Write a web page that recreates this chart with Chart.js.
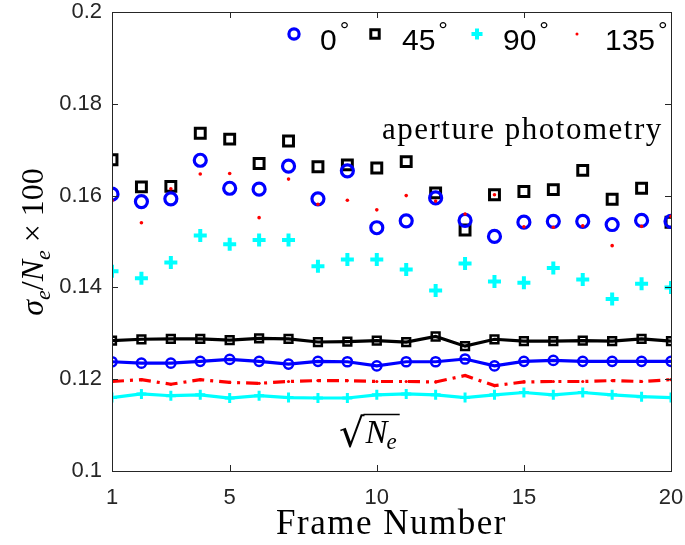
<!DOCTYPE html>
<html lang="en">
<head>
<meta charset="UTF-8">
<title>Frame noise</title>
<script src="https://cdn.jsdelivr.net/npm/chart.js"></script>
<style>
    body { margin: 0; background: #fff; }
    canvas { display: block; }
</style>
</head>
<body>
<canvas id="chart" width="685" height="545"></canvas>
<script>
// frame index
const frames = [1, 2, 3, 4, 5, 6, 7, 8, 9, 10, 11, 12, 13, 14, 15, 16, 17, 18, 19, 20];

// aperture photometry, one list per polarizer angle
const aper0 = [0.1603, 0.1587, 0.1593, 0.1677, 0.1616, 0.1614, 0.1664, 0.1593, 0.1654, 0.1530,
               0.1545, 0.1595, 0.1546, 0.1511, 0.1542, 0.1544, 0.1544, 0.1537, 0.1546, 0.1544];
const aper45 = [0.1678, 0.1619, 0.1620, 0.1736, 0.1723, 0.1670, 0.1719, 0.1663, 0.1667, 0.1660,
                0.1674, 0.1606, 0.1525, 0.1602, 0.1609, 0.1613, 0.1655, 0.1592, 0.1616, 0.1542];
const aper90 = [0.1435, 0.1420, 0.1454, 0.1513, 0.1494, 0.1503, 0.1503, 0.1446, 0.1461, 0.1461,
                0.1439, 0.1393, 0.1452, 0.1413, 0.1410, 0.1442, 0.1417, 0.1375, 0.1408, 0.1400];
const aper135 = [0.1589, 0.1541, 0.1615, 0.1647, 0.1648, 0.1552, 0.1636, 0.1581, 0.1590, 0.1569,
                 0.1600, 0.1588, 0.1560, 0.1602, 0.1532, 0.1531, 0.1534, 0.1491, 0.1533, 0.1555];

// sqrt(Ne) expectation
const sqrt0 = [0.1238, 0.1235, 0.1235, 0.1239, 0.1243, 0.1239, 0.1233, 0.1239, 0.1238, 0.1229,
               0.1238, 0.1238, 0.1244, 0.1229, 0.1239, 0.1241, 0.1239, 0.1239, 0.1239, 0.1239];
const sqrt45 = [0.1284, 0.1287, 0.1288, 0.1288, 0.1285, 0.1289, 0.1288, 0.1281, 0.1282, 0.1284,
                0.1281, 0.1293, 0.1272, 0.1287, 0.1283, 0.1283, 0.1284, 0.1283, 0.1288, 0.1283];
const sqrt90 = [0.1160, 0.1168, 0.1164, 0.1166, 0.1159, 0.1164, 0.1160, 0.1159, 0.1159, 0.1166,
                0.1168, 0.1166, 0.1160, 0.1166, 0.1171, 0.1166, 0.1171, 0.1166, 0.1162, 0.1160];
const sqrt135 = [0.1195, 0.1199, 0.1189, 0.1199, 0.1193, 0.1191, 0.1195, 0.1197, 0.1197, 0.1195,
                 0.1195, 0.1194, 0.1208, 0.1186, 0.1194, 0.1195, 0.1195, 0.1197, 0.1195, 0.1199];

const xTicks = [1, 5, 10, 15, 20];
const yTicks = [0.1, 0.12, 0.14, 0.16, 0.18, 0.2];
const legendLabels = ['0', '45', '90', '135'];

const AXIS = '#262626';
const NONE = 'rgba(0,0,0,0)';
const pts = arr => arr.map((v, i) => ({ x: frames[i], y: v }));

// marker styles shared by plot and legend
const mk = {
    c0:   { pointStyle: 'circle', radius: 6, borderWidth: 3.2, borderColor: '#0000ff', backgroundColor: NONE },
    c45:  { pointStyle: 'rect', radius: 7, borderWidth: 3, borderColor: '#000000', backgroundColor: NONE },
    c90:  { pointStyle: 'cross', radius: 6.5, borderWidth: 4, borderColor: '#00ffff', backgroundColor: NONE },
    c135: { pointStyle: 'circle', radius: 1.8, borderWidth: 0, borderColor: '#ff0000', backgroundColor: '#ff0000' }
};

function scatterSet(data, m) {
    return {
        data: pts(data), showLine: false,
        pointStyle: m.pointStyle, pointRadius: m.radius, pointBorderWidth: m.borderWidth,
        pointBorderColor: m.borderColor, pointBackgroundColor: m.backgroundColor,
        borderColor: m.borderColor, backgroundColor: m.backgroundColor
    };
}

function lineSet(data, color, style, radius, pbw, dash) {
    return {
        data: pts(data), showLine: true, borderColor: color, borderWidth: 3.2,
        borderDash: dash || [], tension: 0,
        pointStyle: style, pointRadius: radius, pointBorderWidth: pbw,
        pointBorderColor: color,
        pointBackgroundColor: style === 'circle' && radius < 2 ? color : NONE
    };
}

const datasets = [
    scatterSet(aper135, mk.c135),
    scatterSet(aper0, mk.c0),
    scatterSet(aper45, mk.c45),
    scatterSet(aper90, mk.c90),
    lineSet(sqrt135, '#ff0000', 'circle', 1.6, 0, [12, 6, 3, 6]),
    lineSet(sqrt0, '#0000ff', 'circle', 4.6, 2.5),
    lineSet(sqrt45, '#000000', 'rect', 5.5, 2.5),
    lineSet(sqrt90, '#00ffff', 'cross', 5, 3)
];

const decorations = {
    id: 'decorations',
    afterDraw(chart) {
        const ctx = chart.ctx;
        const a = chart.chartArea;
        const xs = chart.scales.x, ys = chart.scales.y;
        ctx.save();

        // box with inward ticks
        ctx.strokeStyle = AXIS;
        ctx.lineWidth = 1;
        ctx.strokeRect(a.left + 0.5, a.top + 0.5, a.right - a.left, a.bottom - a.top);
        ctx.beginPath();
        xTicks.forEach(v => {
            const px = Math.round(xs.getPixelForValue(v)) + 0.5;
            ctx.moveTo(px, a.bottom); ctx.lineTo(px, a.bottom - 6);
            ctx.moveTo(px, a.top); ctx.lineTo(px, a.top + 6);
        });
        yTicks.forEach(v => {
            const py = Math.round(ys.getPixelForValue(v)) + 0.5;
            ctx.moveTo(a.left, py); ctx.lineTo(a.left + 6, py);
            ctx.moveTo(a.right, py); ctx.lineTo(a.right - 6, py);
        });
        ctx.stroke();

        // legend
        const items = [mk.c0, mk.c45, mk.c90, mk.c135];
        const markX = [294, 375, 477, 577];
        const textX = [320, 402, 503, 605];
        ctx.textBaseline = 'alphabetic';
        ctx.textAlign = 'left';
        items.forEach((m, i) => {
            ctx.strokeStyle = m.borderColor;
            ctx.fillStyle = m.backgroundColor;
            ctx.lineWidth = m.borderWidth;
            Chart.helpers.drawPoint(ctx, {
                pointStyle: m.pointStyle, radius: m.radius * 0.85,
                borderWidth: m.borderWidth, rotation: 0
            }, markX[i], 34);
            ctx.fillStyle = '#000';
            ctx.font = '30px "Liberation Sans"';
            ctx.fillText(legendLabels[i], textX[i], 50);
            const w = ctx.measureText(legendLabels[i]).width;
            ctx.font = '24px "Liberation Sans"';
            ctx.fillText('\u00b0', textX[i] + w + 3, 38);
        });

        // annotation texts
        ctx.fillStyle = '#000';
        ctx.textAlign = 'left';
        ctx.textBaseline = 'alphabetic';
        ctx.font = '31px "Liberation Serif"';
        ctx.letterSpacing = '1.5px';
        ctx.fillText('aperture photometry', 382, 139);

        ctx.font = '35px "Liberation Serif"';
        ctx.textAlign = 'center';
        ctx.fillText('Frame Number', (a.left + a.right) / 2, 534);
        ctx.letterSpacing = '0px';

        // sqrt(Ne)
        ctx.textAlign = 'left';
        ctx.font = '40px "DejaVu Sans"';
        ctx.fillText('\u221a', 339, 447);
        const rw = ctx.measureText('\u221a').width;
        ctx.font = 'italic 33px "Liberation Serif"';
        ctx.fillText('N', 339 + rw + 1, 443);
        const nw = ctx.measureText('N').width;
        ctx.font = 'italic 23px "Liberation Serif"';
        ctx.fillText('e', 339 + rw + nw, 449);
        const ew = ctx.measureText('e').width;
        ctx.strokeStyle = '#000';
        ctx.lineWidth = 1.5;
        ctx.beginPath();
        ctx.moveTo(339 + rw - 1, 414.5);
        ctx.lineTo(339 + rw + nw + ew + 3, 414.5);
        ctx.stroke();

        // y axis title, rotated, built from pieces
        const parts = [
            { t: '\u03c3', f: 'italic 32px "Liberation Serif"', dy: 0 },
            { t: 'e', f: 'italic 22px "Liberation Serif"', dy: 7 },
            { t: '/', f: '32px "Liberation Serif"', dy: 0 },
            { t: 'N', f: 'italic 32px "Liberation Serif"', dy: 0 },
            { t: 'e', f: 'italic 22px "Liberation Serif"', dy: 7 },
            { t: ' \u00d7 100', f: '32px "Liberation Serif"', dy: 0 }
        ];
        let total = 0;
        parts.forEach(p => { ctx.font = p.f; p.w = ctx.measureText(p.t).width; total += p.w; });
        ctx.translate(43, 242);
        ctx.rotate(-Math.PI / 2);
        let cx = -total / 2;
        parts.forEach(p => {
            ctx.font = p.f;
            ctx.fillText(p.t, cx, p.dy);
            cx += p.w;
        });
        ctx.restore();
    }
};

new Chart(document.getElementById('chart'), {
    type: 'line',
    data: { datasets: datasets },
    options: {
        responsive: false,
        animation: false,
        layout: { padding: { top: 12, right: 14, left: 0, bottom: 0 } },
        plugins: { legend: { display: false }, tooltip: { enabled: false } },
        scales: {
            x: {
                type: 'linear', min: 1, max: 20,
                grid: { display: false, drawTicks: false },
                border: { display: false },
                afterBuildTicks: s => { s.ticks = xTicks.map(v => ({ value: v })); },
                afterFit: s => { s.height = 74; s.paddingLeft = 0; s.paddingRight = 0; },
                ticks: {
                    font: { family: 'Liberation Sans', size: 22 }, color: AXIS,
                    padding: 14, maxRotation: 0, autoSkip: false
                }
            },
            y: {
                type: 'linear', min: 0.1, max: 0.2,
                grid: { display: false, drawTicks: false },
                border: { display: false },
                afterBuildTicks: s => { s.ticks = yTicks.map(v => ({ value: v })); },
                afterFit: s => { s.width = 112; s.paddingTop = 0; s.paddingBottom = 0; },
                ticks: {
                    font: { family: 'Liberation Sans', size: 22 }, color: AXIS,
                    padding: 10, autoSkip: false,
                    callback: v => String(+Number(v).toFixed(2))
                }
            }
        }
    },
    plugins: [decorations]
});
</script>
</body>
</html>
